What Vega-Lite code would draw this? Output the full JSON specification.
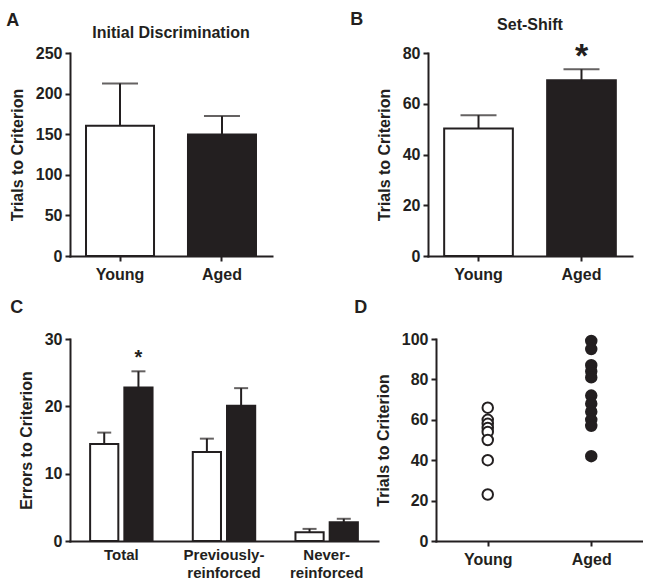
{
  "$schema": "https://vega.github.io/schema/vega-lite/v6.json",
  "background": "white",
  "padding": {"left": 6, "top": 11, "right": 0, "bottom": 0},
  "config": {
    "font": "Liberation Sans",
    "view": {"stroke": null},
    "axis": {
      "domainColor": "#231f20", "domainWidth": 2, "domainCap": "square",
      "tickColor": "#231f20", "tickWidth": 2, "tickSize": 5,
      "labelFont": "Liberation Sans", "labelFontWeight": "bold", "labelFontSize": 16, "labelColor": "#231f20",
      "titleFont": "Liberation Sans", "titleFontWeight": "bold", "titleFontSize": 16, "titleColor": "#231f20",
      "grid": false, "labelPadding": 3, "titlePadding": 10
    },
    "axisX": {"labelPadding": 5},
    "title": {"font": "Liberation Sans", "fontWeight": "bold", "color": "#231f20"}
  },
  "spacing": 17,
  "vconcat": [
    {
      "spacing": 78,
      "hconcat": [
        {
          "title": {"text": "A", "anchor": "start", "fontSize": 18, "frame": "bounds", "dx": -3, "offset": -5},
          "vconcat": [
            {
              "width": 202, "height": 203,
              "title": {"text": "Initial Discrimination", "fontSize": 16, "offset": 4},
              "data": {"values": [
                {"group": "Young", "mean": 160.5, "upper": 212.5},
                {"group": "Aged", "mean": 149.7, "upper": 172.3}
              ]},
              "encoding": {
                "x": {"field": "group", "type": "nominal", "sort": ["Young", "Aged"],
                  "scale": {"paddingInner": 0.333, "paddingOuter": 0.157},
                  "axis": {"title": null, "labelAngle": 0}}
              },
              "layer": [
                {"mark": {"type": "bar", "stroke": "#231f20", "strokeWidth": 2},
                  "encoding": {
                    "y": {"field": "mean", "type": "quantitative", "scale": {"domain": [0, 250], "nice": false},
                      "axis": {"values": [0, 50, 100, 150, 200, 250], "title": "Trials to Criterion"}},
                    "fill": {"field": "group", "type": "nominal", "scale": {"domain": ["Young", "Aged"], "range": ["white", "#231f20"]}, "legend": null}
                  }},
                {"mark": {"type": "rule", "strokeWidth": 2, "color": "#231f20"},
                  "encoding": {"y": {"field": "mean", "type": "quantitative"}, "y2": {"field": "upper"}}},
                {"mark": {"type": "tick", "thickness": 2, "size": 36, "color": "#231f20"},
                  "encoding": {"y": {"field": "upper", "type": "quantitative"}}}
              ]
            }
          ]
        },
        {
          "title": {"text": "B", "anchor": "start", "fontSize": 18, "frame": "bounds", "dx": -26, "offset": -12},
          "vconcat": [
            {
              "width": 204, "height": 203,
              "title": {"text": "Set-Shift", "fontSize": 16, "offset": 7},
              "data": {"values": [
                {"group": "Young", "mean": 50.2, "upper": 55.5, "sig": ""},
                {"group": "Aged", "mean": 69.3, "upper": 73.6, "sig": "*"}
              ]},
              "encoding": {
                "x": {"field": "group", "type": "nominal", "sort": ["Young", "Aged"],
                  "scale": {"paddingInner": 0.333, "paddingOuter": 0.157},
                  "axis": {"title": null, "labelAngle": 0}}
              },
              "layer": [
                {"mark": {"type": "bar", "stroke": "#231f20", "strokeWidth": 2},
                  "encoding": {
                    "y": {"field": "mean", "type": "quantitative", "scale": {"domain": [0, 80], "nice": false},
                      "axis": {"values": [0, 20, 40, 60, 80], "title": "Trials to Criterion"}},
                    "fill": {"field": "group", "type": "nominal", "scale": {"domain": ["Young", "Aged"], "range": ["white", "#231f20"]}, "legend": null}
                  }},
                {"mark": {"type": "rule", "strokeWidth": 2, "color": "#231f20"},
                  "encoding": {"y": {"field": "mean", "type": "quantitative"}, "y2": {"field": "upper"}}},
                {"mark": {"type": "tick", "thickness": 2, "size": 36, "color": "#231f20"},
                  "encoding": {"y": {"field": "upper", "type": "quantitative"}}},
                {"mark": {"type": "text", "fontSize": 34, "fontWeight": "bold", "baseline": "alphabetic", "dy": -2, "color": "#231f20"},
                  "encoding": {"y": {"field": "upper", "type": "quantitative"}, "text": {"field": "sig"}}}
              ]
            }
          ]
        }
      ]
    },
    {
      "spacing": -24,
      "hconcat": [
        {
          "title": {"text": "C", "anchor": "start", "fontSize": 18, "frame": "bounds", "dx": -8, "offset": 14},
          "width": 308, "height": 202,
          "data": {"values": [
            {"measure": "Total", "group": "Young", "mean": 14.4, "upper": 16.1, "sig": ""},
            {"measure": "Total", "group": "Aged", "mean": 22.8, "upper": 25.2, "sig": "*"},
            {"measure": "Previously-reinforced", "group": "Young", "mean": 13.2, "upper": 15.2, "sig": ""},
            {"measure": "Previously-reinforced", "group": "Aged", "mean": 20.1, "upper": 22.7, "sig": ""},
            {"measure": "Never-reinforced", "group": "Young", "mean": 1.3, "upper": 1.8, "sig": ""},
            {"measure": "Never-reinforced", "group": "Aged", "mean": 2.8, "upper": 3.3, "sig": ""}
          ]},
          "encoding": {
            "x": {"field": "measure", "type": "nominal", "sort": ["Total", "Previously-reinforced", "Never-reinforced"],
              "scale": {"paddingInner": 0, "paddingOuter": 0},
              "axis": {"title": null, "labelAngle": 0, "ticks": false, "labelFontSize": 15, "labelLineHeight": 18, "labelPadding": 6,
                "labelExpr": "datum.label == 'Previously-reinforced' ? ['Previously-', 'reinforced'] : datum.label == 'Never-reinforced' ? ['Never-', 'reinforced'] : datum.label"}},
            "xOffset": {"field": "group", "type": "nominal", "sort": ["Young", "Aged"],
              "scale": {"paddingInner": 0.176, "paddingOuter": 0.588}}
          },
          "layer": [
            {"mark": {"type": "bar", "stroke": "#231f20", "strokeWidth": 2},
              "encoding": {
                "y": {"field": "mean", "type": "quantitative", "scale": {"domain": [0, 30], "nice": false},
                  "axis": {"values": [0, 10, 20, 30], "title": "Errors to Criterion"}},
                "fill": {"field": "group", "type": "nominal", "scale": {"domain": ["Young", "Aged"], "range": ["white", "#231f20"]}, "legend": null}
              }},
            {"mark": {"type": "rule", "strokeWidth": 2, "color": "#231f20"},
              "encoding": {"y": {"field": "mean", "type": "quantitative"}, "y2": {"field": "upper"}}},
            {"mark": {"type": "tick", "thickness": 2, "size": 14, "color": "#231f20"},
              "encoding": {"y": {"field": "upper", "type": "quantitative"}}},
            {"mark": {"type": "text", "fontSize": 20, "fontWeight": "bold", "baseline": "alphabetic", "dy": -7, "color": "#231f20"},
              "encoding": {"y": {"field": "upper", "type": "quantitative"}, "text": {"field": "sig"}}}
          ]
        },
        {
          "title": {"text": "D", "anchor": "start", "fontSize": 18, "frame": "bounds", "dx": -21, "offset": 14},
          "width": 207, "height": 202,
          "data": {"values": [
            {"group": "Young", "trials": 66}, {"group": "Young", "trials": 60}, {"group": "Young", "trials": 58},
            {"group": "Young", "trials": 56}, {"group": "Young", "trials": 54}, {"group": "Young", "trials": 50},
            {"group": "Young", "trials": 40}, {"group": "Young", "trials": 23},
            {"group": "Aged", "trials": 99}, {"group": "Aged", "trials": 95}, {"group": "Aged", "trials": 87},
            {"group": "Aged", "trials": 84}, {"group": "Aged", "trials": 81}, {"group": "Aged", "trials": 72},
            {"group": "Aged", "trials": 68}, {"group": "Aged", "trials": 64}, {"group": "Aged", "trials": 60},
            {"group": "Aged", "trials": 57}, {"group": "Aged", "trials": 42}
          ]},
          "mark": {"type": "point", "shape": "circle", "size": 110, "strokeWidth": 2, "stroke": "#231f20", "filled": true, "opacity": 1},
          "encoding": {
            "x": {"field": "group", "type": "nominal", "sort": ["Young", "Aged"], "scale": {"type": "point", "padding": 0.5},
              "axis": {"title": null, "labelAngle": 0}},
            "y": {"field": "trials", "type": "quantitative", "scale": {"domain": [0, 100], "nice": false},
              "axis": {"values": [0, 20, 40, 60, 80, 100], "title": "Trials to Criterion"}},
            "fill": {"field": "group", "type": "nominal", "scale": {"domain": ["Young", "Aged"], "range": ["white", "#231f20"]}, "legend": null}
          }
        }
      ]
    }
  ]
}
